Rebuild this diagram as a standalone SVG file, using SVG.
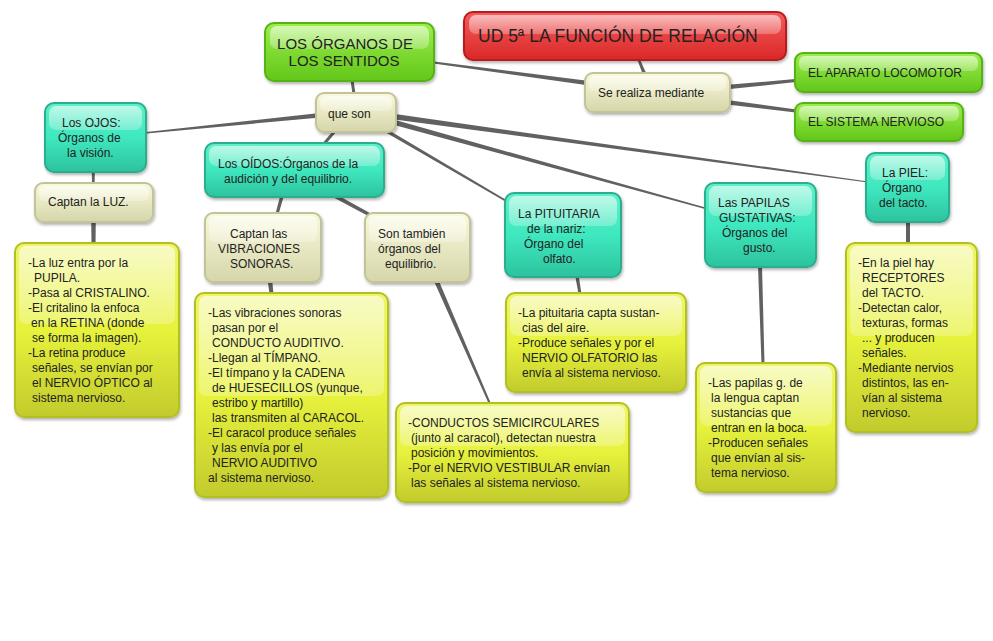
<svg xmlns="http://www.w3.org/2000/svg" width="993" height="641" viewBox="0 0 993 641">
<defs>
<linearGradient id="gTeal" x1="0" y1="0" x2="0" y2="1"><stop offset="0" stop-color="#5ff0c9"/><stop offset="0.5" stop-color="#3fe8bf"/><stop offset="1" stop-color="#2cc39e"/></linearGradient>
<linearGradient id="gYel" x1="0" y1="0" x2="0" y2="1"><stop offset="0" stop-color="#eef56c"/><stop offset="0.5" stop-color="#e7f23c"/><stop offset="1" stop-color="#c2cb2c"/></linearGradient>
<linearGradient id="gCream" x1="0" y1="0" x2="0" y2="1"><stop offset="0" stop-color="#f9f9dc"/><stop offset="1" stop-color="#d6d6aa"/></linearGradient>
<linearGradient id="gGreen" x1="0" y1="0" x2="0" y2="1"><stop offset="0" stop-color="#9cef4c"/><stop offset="1" stop-color="#62c619"/></linearGradient>
<linearGradient id="gRed" x1="0" y1="0" x2="0" y2="1"><stop offset="0" stop-color="#f45c5c"/><stop offset="1" stop-color="#da2828"/></linearGradient>
<linearGradient id="gGloss" x1="0" y1="0" x2="0" y2="1"><stop offset="0" stop-color="#fff" stop-opacity="0.6"/><stop offset="1" stop-color="#fff" stop-opacity="0.25"/></linearGradient>
<filter id="sh" x="-10%" y="-10%" width="125%" height="130%"><feDropShadow dx="1" dy="2" stdDeviation="1.5" flood-color="#000" flood-opacity="0.3"/></filter>
</defs>
<style>
.box{stroke-width:2;filter:url(#sh)}
.teal .box{fill:url(#gTeal);stroke:#2aae8d}
.yel .box{fill:url(#gYel);stroke:#b3c024}
.cream .box{fill:url(#gCream);stroke:#c3c39a}
.green .box{fill:url(#gGreen);stroke:#56b318}
.red .box{fill:url(#gRed);stroke:#b81c1c}
.gloss{fill:url(#gGloss)}
text{font-family:"Liberation Sans",Arial,sans-serif;font-size:12px;fill:#222}
.big{font-size:15px}
.title{font-size:17.5px}
#connectors polygon{fill:#616161}
</style>
<g id="connectors">
<polygon points="595.3,81.77 430.13,61.01 429.87,62.99 594.7,86.23"/>
<polygon points="636.84,58.48 643.38,75.67 646.62,74.33 639.16,57.52"/>
<polygon points="724.79,85.06 797.86,78.81 798.14,81.79 725.21,89.54"/>
<polygon points="725.28,99.77 798.19,109.71 797.81,112.69 724.72,104.23"/>
<polygon points="350.5,80 352.5,94 355.5,94 353.5,80"/>
<polygon points="319.77,112.96 143.92,132.25 144.08,133.75 320.23,117.44"/>
<polygon points="333.86,130.02 321.86,144.02 324.14,145.98 336.14,131.98"/>
<polygon points="384.12,131.51 507.5,202.86 508.5,201.14 385.88,128.49"/>
<polygon points="392.33,124.41 707.8,209.72 708.2,208.28 393.67,119.59"/>
<polygon points="392.62,119.22 867.93,182.5 868.07,181.5 393.38,113.78"/>
<polygon points="91.8,171 92,184 94.6,184 94.8,171"/>
<polygon points="91.2,220 91.5,245 95.5,245 95.8,220"/>
<polygon points="280.31,195.53 275.55,213.6 278.45,214.4 283.69,196.47"/>
<polygon points="334.05,197.76 369.17,216.54 370.83,213.46 335.95,194.24"/>
<polygon points="267.75,281 269.5,294 273.5,294 272.25,281"/>
<polygon points="433.94,280.9 489.08,404.4 490.92,403.6 438.06,279.1"/>
<polygon points="575.25,276 578.5,294 581.5,294 578.75,276"/>
<polygon points="758,266 761.5,364 764.5,364 762,266"/>
<polygon points="906,221 906,244 910,244 910,221"/>
</g>

<g id="n-organos" class="green">
<rect class="box" x="265" y="23" width="169" height="58" rx="9"/>
<rect class="gloss" x="270" y="26" width="159" height="23" rx="7"/>
<text class="big" text-anchor="middle"><tspan x="345" y="48.5">LOS ÓRGANOS DE</tspan><tspan x="344" y="65.5">LOS SENTIDOS</tspan></text>
</g>
<g id="n-ud" class="red">
<rect class="box" x="464" y="12" width="322" height="48" rx="9"/>
<rect class="gloss" x="469" y="15" width="312" height="19" rx="7"/>
<text class="title" x="478" y="42">UD 5ª LA FUNCIÓN DE RELACIÓN</text>
</g>
<g id="n-serealiza" class="cream">
<rect class="box" x="585" y="73" width="145" height="39" rx="8"/>
<rect class="gloss" x="589" y="76" width="137" height="15" rx="6"/>
<text x="598" y="97.3">Se realiza mediante</text>
</g>
<g id="n-aparato" class="green">
<rect class="box" x="795" y="53" width="187" height="39" rx="8"/>
<rect class="gloss" x="799" y="56" width="179" height="15" rx="6"/>
<text x="808" y="77.3">EL APARATO LOCOMOTOR</text>
</g>
<g id="n-sistema" class="green">
<rect class="box" x="795" y="103" width="168" height="38" rx="8"/>
<rect class="gloss" x="799" y="106" width="160" height="15" rx="6"/>
<text x="808" y="126.3">EL SISTEMA NERVIOSO</text>
</g>
<g id="n-queson" class="cream">
<rect class="box" x="316" y="93" width="80" height="39" rx="8"/>
<rect class="gloss" x="320" y="96" width="72" height="15" rx="6"/>
<text x="328" y="117.5">que son</text>
</g>
<g id="n-ojos" class="teal">
<rect class="box" x="45" y="103" width="101" height="69" rx="9"/>
<rect class="gloss" x="49" y="106" width="93" height="24" rx="7"/>
<text><tspan x="62" y="127.3">Los OJOS:</tspan><tspan x="58" y="142.3">Órganos de</tspan><tspan x="67" y="157.3">la visión.</tspan></text>
</g>
<g id="n-oidos" class="teal">
<rect class="box" x="205" y="143" width="179" height="54" rx="9"/>
<rect class="gloss" x="209" y="146" width="171" height="20" rx="7"/>
<text><tspan x="218" y="167.5">Los OÍDOS:Órganos de la</tspan><tspan x="224" y="182.5">audición y del equilibrio.</tspan></text>
</g>
<g id="n-luz" class="cream">
<rect class="box" x="35" y="183" width="118" height="39" rx="8"/>
<rect class="gloss" x="39" y="186" width="110" height="15" rx="6"/>
<text x="48" y="206.3">Captan la LUZ.</text>
</g>
<g id="n-vibraciones" class="cream">
<rect class="box" x="205" y="213" width="116" height="69" rx="8"/>
<rect class="gloss" x="209" y="216" width="108" height="26" rx="6"/>
<text><tspan x="230" y="237.5">Captan las</tspan><tspan x="218" y="252.5">VIBRACIONES</tspan><tspan x="230" y="267.5">SONORAS.</tspan></text>
</g>
<g id="n-equilibrio" class="cream">
<rect class="box" x="365" y="213" width="105" height="69" rx="8"/>
<rect class="gloss" x="369" y="216" width="97" height="26" rx="6"/>
<text><tspan x="378" y="237.5">Son también</tspan><tspan x="378" y="252.5">órganos del</tspan><tspan x="385" y="267.5">equilibrio.</tspan></text>
</g>
<g id="n-pituitaria" class="teal">
<rect class="box" x="505" y="193" width="116" height="84" rx="9"/>
<rect class="gloss" x="509" y="196" width="108" height="30" rx="7"/>
<text><tspan x="518" y="217.5">La PITUITARIA</tspan><tspan x="527" y="232.5">de la nariz:</tspan><tspan x="524" y="247.5">Órgano del</tspan><tspan x="543" y="262.5">olfato.</tspan></text>
</g>
<g id="n-papilas" class="teal">
<rect class="box" x="705" y="183" width="111" height="84" rx="9"/>
<rect class="gloss" x="709" y="186" width="103" height="30" rx="7"/>
<text><tspan x="718" y="207">Las PAPILAS</tspan><tspan x="719" y="222">GUSTATIVAS:</tspan><tspan x="722" y="237">Órganos del</tspan><tspan x="743" y="252">gusto.</tspan></text>
</g>
<g id="n-piel" class="teal">
<rect class="box" x="866" y="153" width="83" height="69" rx="9"/>
<rect class="gloss" x="870" y="156" width="75" height="24" rx="7"/>
<text><tspan x="882" y="177">La PIEL:</tspan><tspan x="882" y="192">Órgano</tspan><tspan x="879" y="207">del tacto.</tspan></text>
</g>

<g id="d-ojos" class="yel">
<rect class="box" x="15" y="243" width="164" height="174" rx="9"/>
<rect class="gloss" x="19" y="246" width="156" height="78" rx="7"/>
<text><tspan x="28" y="266.6">-La luz entra por la</tspan><tspan x="34" y="281.6">PUPILA.</tspan><tspan x="28" y="296.6">-Pasa al CRISTALINO.</tspan><tspan x="28" y="311.6">-El critalino la enfoca</tspan><tspan x="31" y="326.6">en la RETINA (donde</tspan><tspan x="32" y="341.6">se forma la imagen).</tspan><tspan x="28" y="356.6">-La retina produce</tspan><tspan x="32" y="371.6">señales, se envían por</tspan><tspan x="32" y="386.6">el NERVIO ÓPTICO al</tspan><tspan x="32" y="401.6">sistema nervioso.</tspan></text>
</g>
<g id="d-oidos" class="yel">
<rect class="box" x="195" y="293" width="193" height="204" rx="9"/>
<rect class="gloss" x="199" y="296" width="185" height="100" rx="7"/>
<text><tspan x="208" y="317">-Las vibraciones sonoras</tspan><tspan x="212" y="332">pasan por el</tspan><tspan x="212" y="347">CONDUCTO AUDITIVO.</tspan><tspan x="208" y="362">-Llegan al TÍMPANO.</tspan><tspan x="208" y="377">-El tímpano y la CADENA</tspan><tspan x="212" y="392">de HUESECILLOS (yunque,</tspan><tspan x="212" y="407">estribo y martillo)</tspan><tspan x="212" y="422">las transmiten al CARACOL.</tspan><tspan x="208" y="437">-El caracol produce señales</tspan><tspan x="212" y="452">y las envía por el</tspan><tspan x="212" y="467">NERVIO AUDITIVO</tspan><tspan x="208" y="482">al sistema nervioso.</tspan></text>
</g>
<g id="d-conductos" class="yel">
<rect class="box" x="396" y="403" width="233" height="99" rx="9"/>
<rect class="gloss" x="400" y="406" width="225" height="40" rx="7"/>
<text><tspan x="408" y="427">-CONDUCTOS SEMICIRCULARES</tspan><tspan x="411" y="442">(junto al caracol), detectan nuestra</tspan><tspan x="411" y="457">posición y movimientos.</tspan><tspan x="408" y="472">-Por el NERVIO VESTIBULAR envían</tspan><tspan x="411" y="487">las señales al sistema nervioso.</tspan></text>
</g>
<g id="d-pituitaria" class="yel">
<rect class="box" x="506" y="293" width="180" height="99" rx="9"/>
<rect class="gloss" x="510" y="296" width="172" height="40" rx="7"/>
<text><tspan x="518" y="317.3">-La pituitaria capta sustan-</tspan><tspan x="522" y="332.3">cias del aire.</tspan><tspan x="518" y="347.3">-Produce señales y por el</tspan><tspan x="522" y="362.3">NERVIO OLFATORIO las</tspan><tspan x="522" y="377.3">envía al sistema nervioso.</tspan></text>
</g>
<g id="d-papilas" class="yel">
<rect class="box" x="696" y="363" width="140" height="129" rx="9"/>
<rect class="gloss" x="700" y="366" width="132" height="60" rx="7"/>
<text><tspan x="708" y="387">-Las papilas g. de</tspan><tspan x="711" y="402">la lengua captan</tspan><tspan x="711" y="417">sustancias que</tspan><tspan x="711" y="432">entran en la boca.</tspan><tspan x="708" y="447">-Producen señales</tspan><tspan x="711" y="462">que envían al sis-</tspan><tspan x="711" y="477">tema nervioso.</tspan></text>
</g>
<g id="d-piel" class="yel">
<rect class="box" x="846" y="243" width="131" height="189" rx="9"/>
<rect class="gloss" x="850" y="246" width="123" height="90" rx="7"/>
<text><tspan x="858" y="267">-En la piel hay</tspan><tspan x="862" y="282">RECEPTORES</tspan><tspan x="862" y="297">del TACTO.</tspan><tspan x="858" y="312">-Detectan calor,</tspan><tspan x="862" y="327">texturas, formas</tspan><tspan x="862" y="342">... y producen</tspan><tspan x="862" y="357">señales.</tspan><tspan x="858" y="372">-Mediante nervios</tspan><tspan x="862" y="387">distintos, las en-</tspan><tspan x="862" y="402">vían al sistema</tspan><tspan x="862" y="417">nervioso.</tspan></text>
</g>
</svg>
